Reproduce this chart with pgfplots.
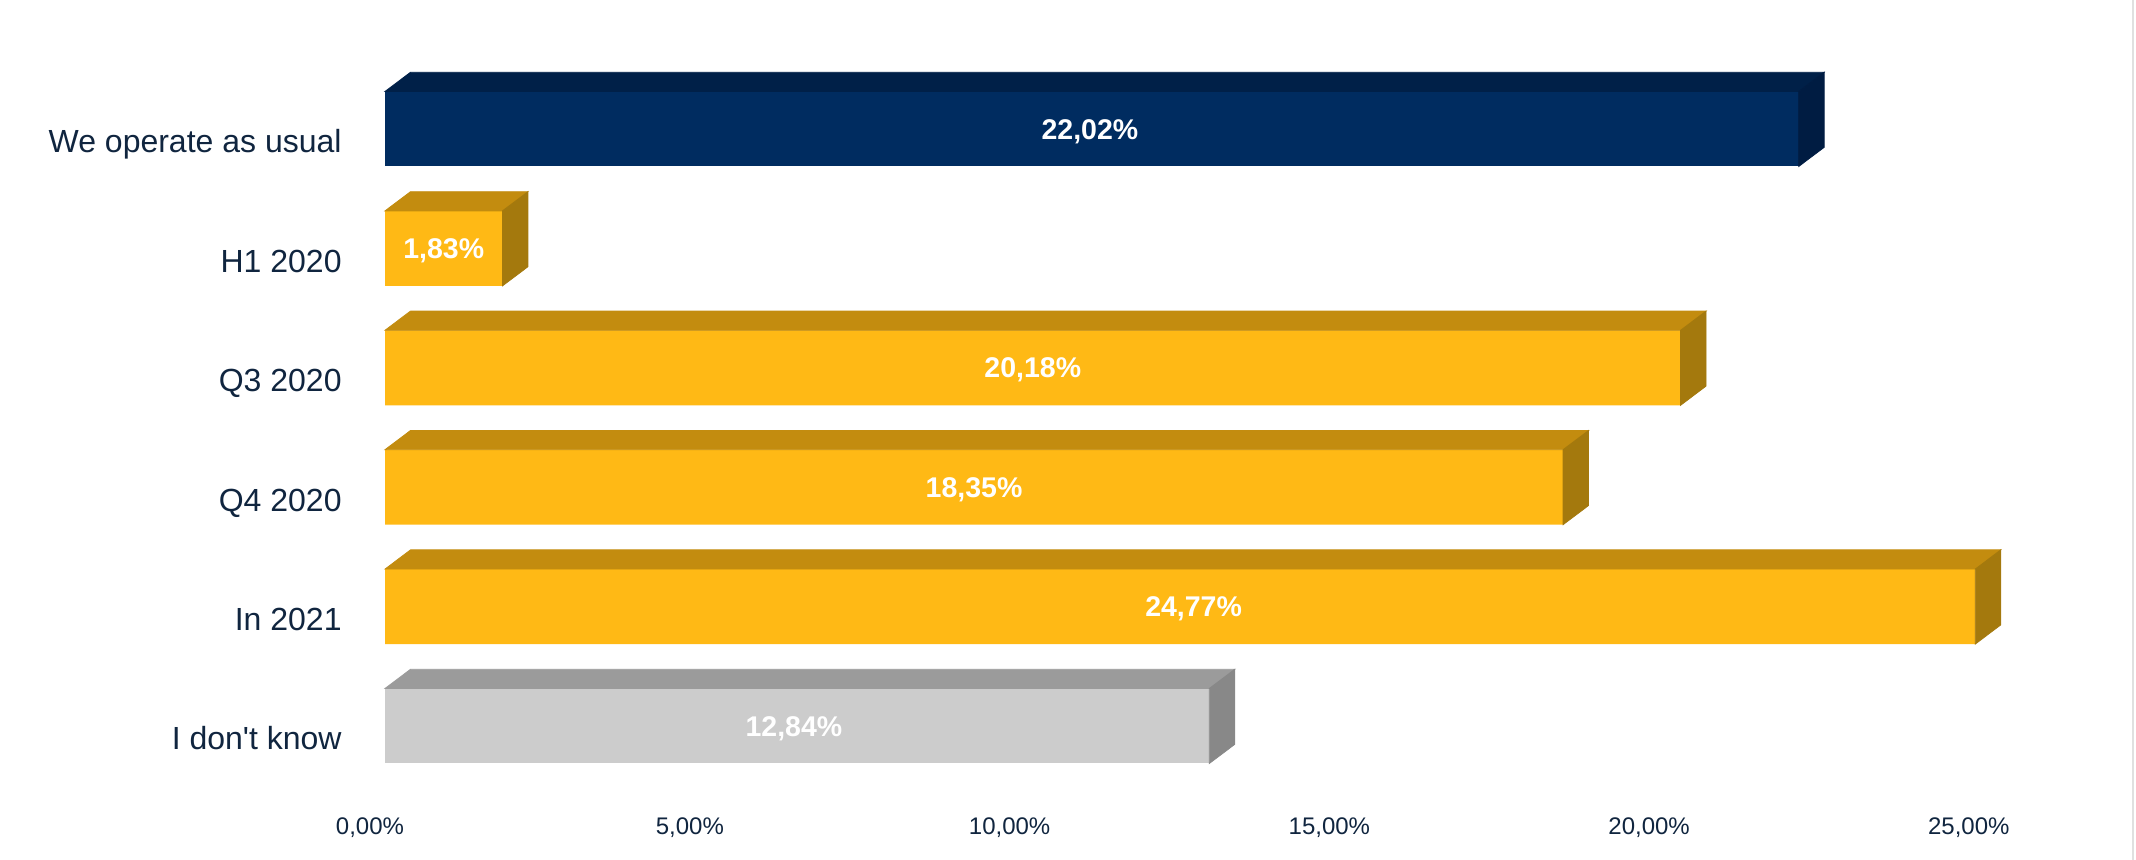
\documentclass[border=0pt]{standalone}
\usepackage{pgfplots}
\usepackage{pgfplotstable}
\pgfplotsset{compat=1.18}
\usepackage{fontspec}
\setmainfont{Liberation Sans}
\definecolor{navyF}{HTML}{002C60}
\definecolor{navyT}{HTML}{002048}
\definecolor{navyS}{HTML}{001C42}
\definecolor{yelF}{HTML}{FFB915}
\definecolor{yelT}{HTML}{C38C0F}
\definecolor{yelS}{HTML}{A4790D}
\definecolor{greyF}{HTML}{CCCCCC}
\definecolor{greyT}{HTML}{9B9B9B}
\definecolor{greyS}{HTML}{888888}
\definecolor{labelc}{HTML}{10253F}
\pgfdeclareplotmark{empty}{}
% off = small horizontal nudge of the value label (axis units)
\pgfplotstableread{
y v off
5 22.02 -0.03
}\tblnavy
\pgfplotstableread{
y v off
4 1.83 0
3 20.18 0
2 18.35 0
1 24.77 0.21
}\tblyel
\pgfplotstableread{
y v off
0 12.84 -0.05
}\tblgrey
\pgfplotsset{
  box3d/.style 2 args={scatter, only marks, mark=empty,
    visualization depends on={rawx \as \val},
    scatter/@pre marker code/.code={%
      \pgfmathsetlengthmacro\barlen{\val*32.1pt}%
      \fill[#1] ({-\barlen},18.75pt) -- (0pt,18.75pt) -- (12.75pt,28.35pt) -- ({12.75pt-\barlen},28.35pt) -- cycle;
      \fill[#2] (0pt,18.75pt) -- (12.75pt,28.35pt) -- (12.75pt,-9.15pt) -- (0pt,-18.75pt) -- cycle;
    },
    scatter/@post marker code/.code={}},
  vlabel/.style={only marks, mark=empty,
    point meta=\thisrow{v},
    nodes near coords={\pgfmathprintnumber[fixed,fixed zerofill,precision=2,use comma,assume math mode=true]{\pgfplotspointmeta}\%},
    nodes near coords style={anchor=base, inner sep=0pt, yshift=-5.1pt, text=white, font=\bfseries\fontsize{14.25}{17}\selectfont}},
}
\begin{document}
\begin{tikzpicture}
\begin{axis}[
  at={(176.45pt,37.15pt)}, anchor=south west,
  x=32.1pt, y=59.7pt,
  xmin=-0.5, xmax=27, ymin=-0.5, ymax=5.5,
  axis line style={draw=none}, tick style={draw=none},
  major tick length=0pt,
  clip=false,
  bar width=37.5pt,
  xtick={-0.234,4.748,9.729,14.71,19.69,24.67},
  xticklabels={{0,00\%},{5,00\%},{10,00\%},{15,00\%},{20,00\%},{25,00\%}},
  ytick={0,1,2,3,4,5},
  yticklabels={I don\textquotesingle t know,In 2021,Q4 2020,Q3 2020,H1 2020,We operate as usual},
  yticklabel style={anchor=base east, inner sep=0pt, xshift=-5.45pt, yshift=-12pt, text=labelc, font=\fontsize{16}{19}\selectfont},
  xticklabel style={anchor=base, inner sep=0pt, yshift=-24.65pt, text=labelc, font=\fontsize{12}{14}\selectfont},
]
\addplot[xbar, bar shift=0pt, fill=navyF, draw=none] table[x=v,y=y]{\tblnavy};
\addplot[xbar, bar shift=0pt, fill=yelF, draw=none] table[x=v,y=y]{\tblyel};
\addplot[xbar, bar shift=0pt, fill=greyF, draw=none] table[x=v,y=y]{\tblgrey};
\addplot[box3d={navyT}{navyS}] table[x=v,y=y]{\tblnavy};
\addplot[box3d={yelT}{yelS}] table[x=v,y=y]{\tblyel};
\addplot[box3d={greyT}{greyS}] table[x=v,y=y]{\tblgrey};
\addplot[vlabel] table[x expr=\thisrow{v}/2+\thisrow{off},y=y]{\tblnavy};
\addplot[vlabel] table[x expr=\thisrow{v}/2+\thisrow{off},y=y]{\tblyel};
\addplot[vlabel] table[x expr=\thisrow{v}/2+\thisrow{off},y=y]{\tblgrey};
\end{axis}
\draw[black!12, line width=1pt] (1066.5pt,0pt) -- (1066.5pt,430pt);
\pgfresetboundingbox
\useasboundingbox (0pt,0pt) rectangle (1068pt,430pt);
\end{tikzpicture}
\end{document}
